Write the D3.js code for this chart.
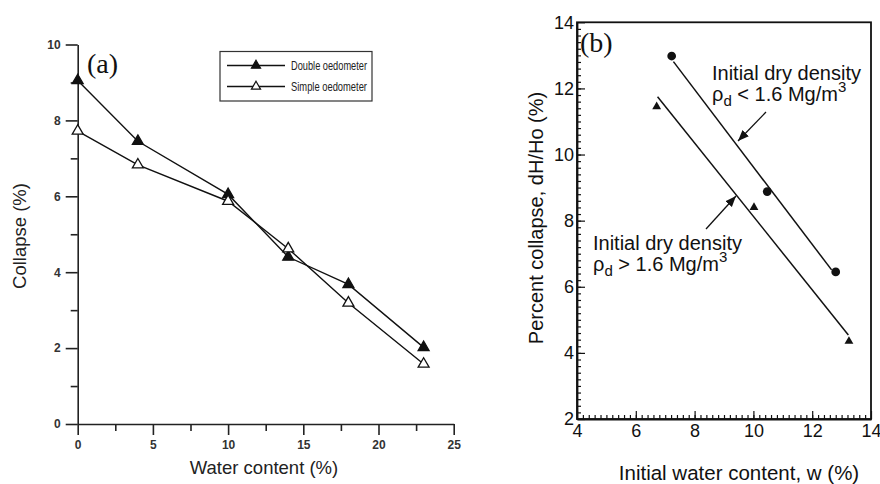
<!DOCTYPE html>
<html><head><meta charset="utf-8">
<script src="https://cdn.jsdelivr.net/npm/d3@7"></script>
<style>body{margin:0;background:#fff}svg{display:block}</style>
</head><body><svg id="c" width="880" height="484"></svg>
<script>
// ---- Panel (a) data ----
const waterA = [0, 4, 10, 14, 18, 23];
const doubleOed = [9.05, 7.45, 6.05, 4.40, 3.68, 2.02];
const simpleOed = [7.72, 6.83, 5.87, 4.62, 3.19, 1.58];
const xTicksA = [0, 5, 10, 15, 20, 25];
const yTicksA = [0, 2, 4, 6, 8, 10];
const seriesNames = ["Double oedometer", "Simple oedometer"];
// ---- Panel (b) data ----
const lowDensW = [7.22, 10.47, 12.80];
const lowDensC = [12.98, 8.88, 6.45];
const highDensW = [6.71, 10.02, 13.25];
const highDensC = [11.45, 8.40, 4.35];
const fitLowW = [7.28, 12.66];
const fitLowC = [12.81, 6.51];
const fitHighW = [6.74, 13.23];
const fitHighC = [11.75, 4.54];
const xTicksB = [4, 6, 8, 10, 12, 14];
const yTicksB = [2, 4, 6, 8, 10, 12, 14];

const svg = d3.select("#c");
const SANS = "'Liberation Sans', Arial, sans-serif";
const SERIF = "'Liberation Serif', 'Times New Roman', serif";

// ================= Panel (a) =================
const xa = d3.scaleLinear().domain([0, 25]).range([77.7, 453.7]);
const ya = d3.scaleLinear().domain([0, 10]).range([424, 44.5]);
const ga = svg.append("g");

function styleAxisA(g){
  g.selectAll("path.domain").attr("stroke","#222").attr("stroke-width",1.6);
  g.selectAll(".tick line").attr("stroke","#222").attr("stroke-width",1.6);
  g.selectAll("text").attr("font-family",SANS).attr("font-size",12).attr("fill","#333").attr("font-weight","bold");
}
const axL = ga.append("g").attr("transform",`translate(${xa(0)},0)`)
  .call(d3.axisLeft(ya).tickValues(yTicksA).tickSize(12).tickSizeOuter(0).tickPadding(5));
styleAxisA(axL);
const axLm = ga.append("g").attr("transform",`translate(${xa(0)},0)`)
  .call(d3.axisLeft(ya).tickValues(d3.range(1,10,2)).tickSize(7).tickFormat(""));
styleAxisA(axLm); axLm.select("path.domain").remove();
const axB = ga.append("g").attr("transform",`translate(0,${ya(0)})`)
  .call(d3.axisBottom(xa).tickValues(xTicksA).tickSize(11).tickSizeOuter(0).tickPadding(5));
styleAxisA(axB);
const axBm = ga.append("g").attr("transform",`translate(0,${ya(0)})`)
  .call(d3.axisBottom(xa).tickValues(d3.range(2.5,25,5)).tickSize(7).tickFormat(""));
styleAxisA(axBm); axBm.select("path.domain").remove();

ga.append("text").attr("x",264).attr("y",474).attr("text-anchor","middle")
  .attr("font-family",SANS).attr("font-size",18.5).attr("fill","#222").text("Water content (%)");
ga.append("text").attr("transform","translate(26,236) rotate(-90)").attr("text-anchor","middle")
  .attr("font-family",SANS).attr("font-size",18.5).attr("fill","#222").text("Collapse (%)");
ga.append("text").attr("x",87).attr("y",73).attr("font-family",SERIF).attr("font-size",28).attr("fill","#111").text("(a)");

const lineA = d3.line().x(d=>xa(d[0])).y(d=>ya(d[1]));
const tri = d3.symbol().type(d3.symbolTriangle).size(52);
const dataA = [
  {name:seriesNames[0], pts:d3.zip(waterA,doubleOed), fill:"#111"},
  {name:seriesNames[1], pts:d3.zip(waterA,simpleOed), fill:"#fff"}
];
dataA.forEach(s=>{
  ga.append("path").attr("d",lineA(s.pts)).attr("fill","none").attr("stroke","#111").attr("stroke-width",1.4);
});
dataA.forEach(s=>{
  ga.selectAll(null).data(s.pts).enter().append("path")
    .attr("d",tri).attr("transform",d=>`translate(${xa(d[0])},${ya(d[1])})`)
    .attr("fill",s.fill).attr("stroke","#111").attr("stroke-width",1.3);
});
// legend
const lg = ga.append("g");
lg.append("rect").attr("x",220).attr("y",51.5).attr("width",152).attr("height",49.5)
  .attr("fill","#fff").attr("stroke","#333").attr("stroke-width",1.2);
dataA.forEach((s,i)=>{
  const y = 65.5 + i*21;
  lg.append("line").attr("x1",227).attr("x2",285).attr("y1",y).attr("y2",y).attr("stroke","#111").attr("stroke-width",1.4);
  lg.append("path").attr("d",d3.symbol().type(d3.symbolTriangle).size(36)).attr("transform",`translate(256,${y})`)
    .attr("fill",s.fill).attr("stroke","#111").attr("stroke-width",1.2);
  lg.append("text").attr("x",291).attr("y",y+4.5).attr("font-family",SANS).attr("font-size",12.5)
    .attr("textLength",76).attr("lengthAdjust","spacingAndGlyphs").attr("fill","#222").text(s.name);
});

// ================= Panel (b) =================
const xb = d3.scaleLinear().domain([4, 14]).range([577, 871]);
const yb = d3.scaleLinear().domain([2, 14]).range([419, 22.3]);
const gb = svg.append("g");
function styleAxisB(g){
  g.selectAll("path.domain").attr("stroke","#111").attr("stroke-width",1.8);
  g.selectAll(".tick line").attr("stroke","#111").attr("stroke-width",1.2);
  g.selectAll("text").attr("font-family",SANS).attr("font-size",18).attr("fill","#111");
}
gb.append("rect").attr("x",xb(4)).attr("y",yb(14)).attr("width",xb(14)-xb(4)).attr("height",yb(2)-yb(14))
  .attr("fill","none").attr("stroke","#111").attr("stroke-width",1.8);
const bl = gb.append("g").attr("transform",`translate(${xb(4)},0)`)
  .call(d3.axisLeft(yb).tickValues(yTicksB).tickSize(-8).tickSizeOuter(0).tickPadding(3));
styleAxisB(bl);
const blm = gb.append("g").attr("transform",`translate(${xb(4)},0)`)
  .call(d3.axisLeft(yb).tickValues(d3.range(2.2,14,0.2)).tickSize(-4).tickFormat(""));
styleAxisB(blm); blm.select("path.domain").remove();
const bb = gb.append("g").attr("transform",`translate(0,${yb(2)})`)
  .call(d3.axisBottom(xb).tickValues(xTicksB).tickSize(-8).tickSizeOuter(0).tickPadding(5));
styleAxisB(bb);
const bbm = gb.append("g").attr("transform",`translate(0,${yb(2)})`)
  .call(d3.axisBottom(xb).tickValues(d3.range(4.2,14,0.2)).tickSize(-4).tickFormat(""));
styleAxisB(bbm); bbm.select("path.domain").remove();

gb.append("text").attr("x",739).attr("y",480).attr("text-anchor","middle")
  .attr("font-family",SANS).attr("font-size",20.5).attr("fill","#111").text("Initial water content, w (%)");
gb.append("text").attr("transform","translate(543,218) rotate(-90)").attr("text-anchor","middle")
  .attr("font-family",SANS).attr("font-size",20).attr("fill","#111").text("Percent collapse, dH/Ho (%)");
gb.append("text").attr("x",580).attr("y",52).attr("font-family",SERIF).attr("font-size",28).attr("fill","#111").text("(b)");

const lineB = d3.line().x(d=>xb(d[0])).y(d=>yb(d[1]));
gb.append("path").attr("d",lineB(d3.zip(fitLowW,fitLowC))).attr("stroke","#111").attr("stroke-width",1.5).attr("fill","none");
gb.append("path").attr("d",lineB(d3.zip(fitHighW,fitHighC))).attr("stroke","#111").attr("stroke-width",1.5).attr("fill","none");
gb.selectAll(null).data(d3.zip(lowDensW,lowDensC)).enter().append("path")
  .attr("d",d3.symbol().type(d3.symbolCircle).size(60))
  .attr("transform",d=>`translate(${xb(d[0])},${yb(d[1])})`).attr("fill","#111");
gb.selectAll(null).data(d3.zip(highDensW,highDensC)).enter().append("path")
  .attr("d",d3.symbol().type(d3.symbolTriangle).size(34))
  .attr("transform",d=>`translate(${xb(d[0])},${yb(d[1])})`).attr("fill","#111");

// annotations
svg.append("defs").append("marker").attr("id","ah").attr("viewBox","0 0 10 10").attr("refX",10).attr("refY",5)
  .attr("markerWidth",11).attr("markerHeight",11).attr("markerUnits","userSpaceOnUse").attr("orient","auto")
  .append("path").attr("d","M0,1 L10,5 L0,9 Z").attr("fill","#111");
gb.append("line").attr("x1",766).attr("y1",112).attr("x2",738).attr("y2",141)
  .attr("stroke","#111").attr("stroke-width",1.3).attr("marker-end","url(#ah)");
gb.append("line").attr("x1",706).attr("y1",229).attr("x2",736).attr("y2",196)
  .attr("stroke","#111").attr("stroke-width",1.3).attr("marker-end","url(#ah)");

function densLabel(x, y, sym){
  gb.append("text").attr("x",x).attr("y",y).attr("font-family",SANS).attr("font-size",20).attr("fill","#111").text("Initial dry density");
  const t = gb.append("text").attr("x",x).attr("y",y+21).attr("font-family",SANS).attr("font-size",20).attr("fill","#111");
  t.append("tspan").text("ρ");
  t.append("tspan").attr("dy",5).attr("font-size",15).text("d");
  t.append("tspan").attr("dy",-5).text(" " + sym + " 1.6 Mg/m");
  t.append("tspan").attr("dy",-9).attr("font-size",15).text("3");
}
densLabel(712, 80, "<");
densLabel(593, 250, ">");
</script></body></html>
